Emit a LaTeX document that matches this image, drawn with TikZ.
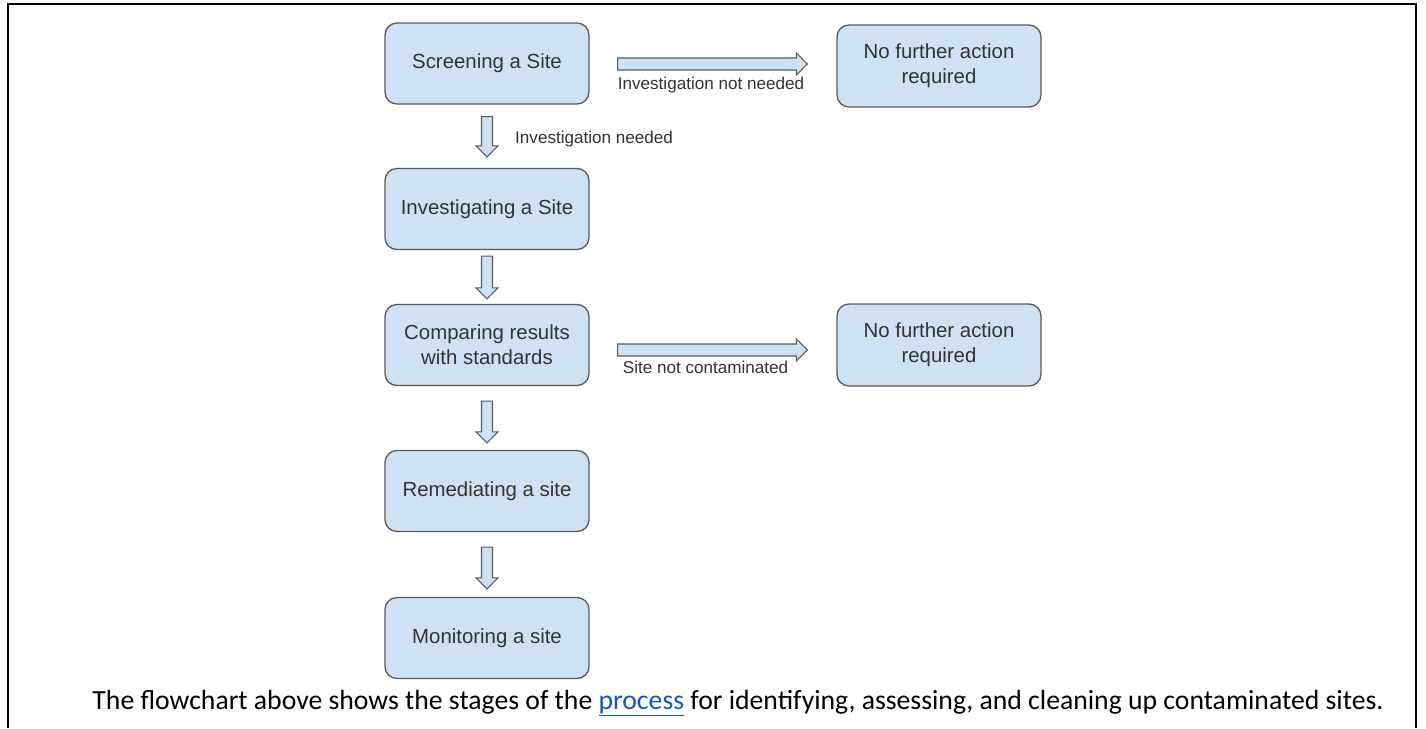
\documentclass[tikz,border=0pt]{standalone}
\usepackage{fontspec}
\setmainfont{Liberation Sans}
\newfontfamily\capfont{Carlito}
\usetikzlibrary{calc}

\definecolor{boxfill}{HTML}{CFE2F3}
\definecolor{boxline}{HTML}{595959}
\definecolor{inktext}{HTML}{333333}
\definecolor{linkblue}{HTML}{1155CC}

% downward block arrow from node #1 to node #2, gaps #3 (top) and #4 (bottom)
\newcommand\vblock[4]{%
  \path[blk] let \p1=($(#1.south)+(0,#3)$), \p2=($(#2.north)+(0,-#4)$) in
    (\x1-5.5pt,\y1) -- (\x1+5.5pt,\y1) -- (\x1+5.5pt,\y2+11pt) -- (\x1+11pt,\y2+11pt)
    -- (\x1,\y2) -- (\x1-11pt,\y2+11pt) -- (\x1-5.5pt,\y2+11pt) -- cycle;}

% rightward block arrow between two named coordinates
\newcommand\hblock[2]{%
  \path[blk] let \p1=(#1), \p2=(#2) in
    (\x1,\y1+6pt) -- (\x2-11pt,\y1+6pt) -- (\x2-11pt,\y1+11pt) -- (\x2,\y1)
    -- (\x2-11pt,\y1-11pt) -- (\x2-11pt,\y1-6pt) -- (\x1,\y1-6pt) -- cycle;}

\begin{document}
\begin{tikzpicture}[x=1pt,y=-1pt,
  stage/.style={draw=boxline, line width=1.3pt, fill=boxfill, rounded corners=12pt,
    minimum width=204pt, minimum height=81pt, align=center, inner sep=0pt,
    font=\fontsize{20.4}{25}\selectfont, text=inktext},
  blk/.style={draw=boxline, line width=1.1pt, fill=boxfill, line join=miter},
  lbl/.style={font=\fontsize{17.1}{20}\selectfont, text=inktext, inner sep=0pt}]

\useasboundingbox (0,0) rectangle (1426,728);

% frame
\draw[line width=2.5pt] (8,728) -- (8,4) -- (1416,4) -- (1416,728);

% stages
\node[stage] (screen)  at (487,63.5) {Screening a Site};
\node[stage] (invest)  at (487,209)  {Investigating a Site};
\node[stage] (compare) at (487,345)  {Comparing results\\with standards};
\node[stage] (remed)   at (487,491)  {Remediating a site};
\node[stage] (monitor) at (487,638)  {Monitoring a site};

\node[stage, minimum height=82pt] (nfa1) at (939,66)  {No further action\\required};
\node[stage, minimum height=82pt] (nfa2) at (939,345) {No further action\\required};

% main flow
\vblock{screen}{invest}{12}{11}
\vblock{invest}{compare}{6}{5}
\vblock{compare}{remed}{15}{7}
\vblock{remed}{monitor}{15}{8}

% exits
\coordinate (r1s) at ($(screen.east)+(28,0.5)$);
\coordinate (r1e) at ($(nfa1.west)+(-29,-2)$);
\coordinate (r2s) at ($(compare.east)+(28,5)$);
\coordinate (r2e) at ($(nfa2.west)+(-29,5)$);
\hblock{r1s}{r1e}
\hblock{r2s}{r2e}

% labels
\node[lbl, anchor=west] (lab1) at ($(r1s)+(0,21)$) {Investigation not needed};
\node[lbl, anchor=west] (lab2) at ($(screen.south)+(28,34)$) {Investigation needed};
\node[lbl, anchor=west] (lab3) at ($(r2s)+(5,17)$) {Site not contaminated};

% caption
\node[font=\capfont\fontsize{27.7}{32}\selectfont, inner sep=0pt] (caption) at (738,703)
  {The flowchart above shows the stages of the \textcolor{linkblue}{\underline{process}} for identifying, assessing, and cleaning up contaminated sites.};
\end{tikzpicture}
\end{document}
